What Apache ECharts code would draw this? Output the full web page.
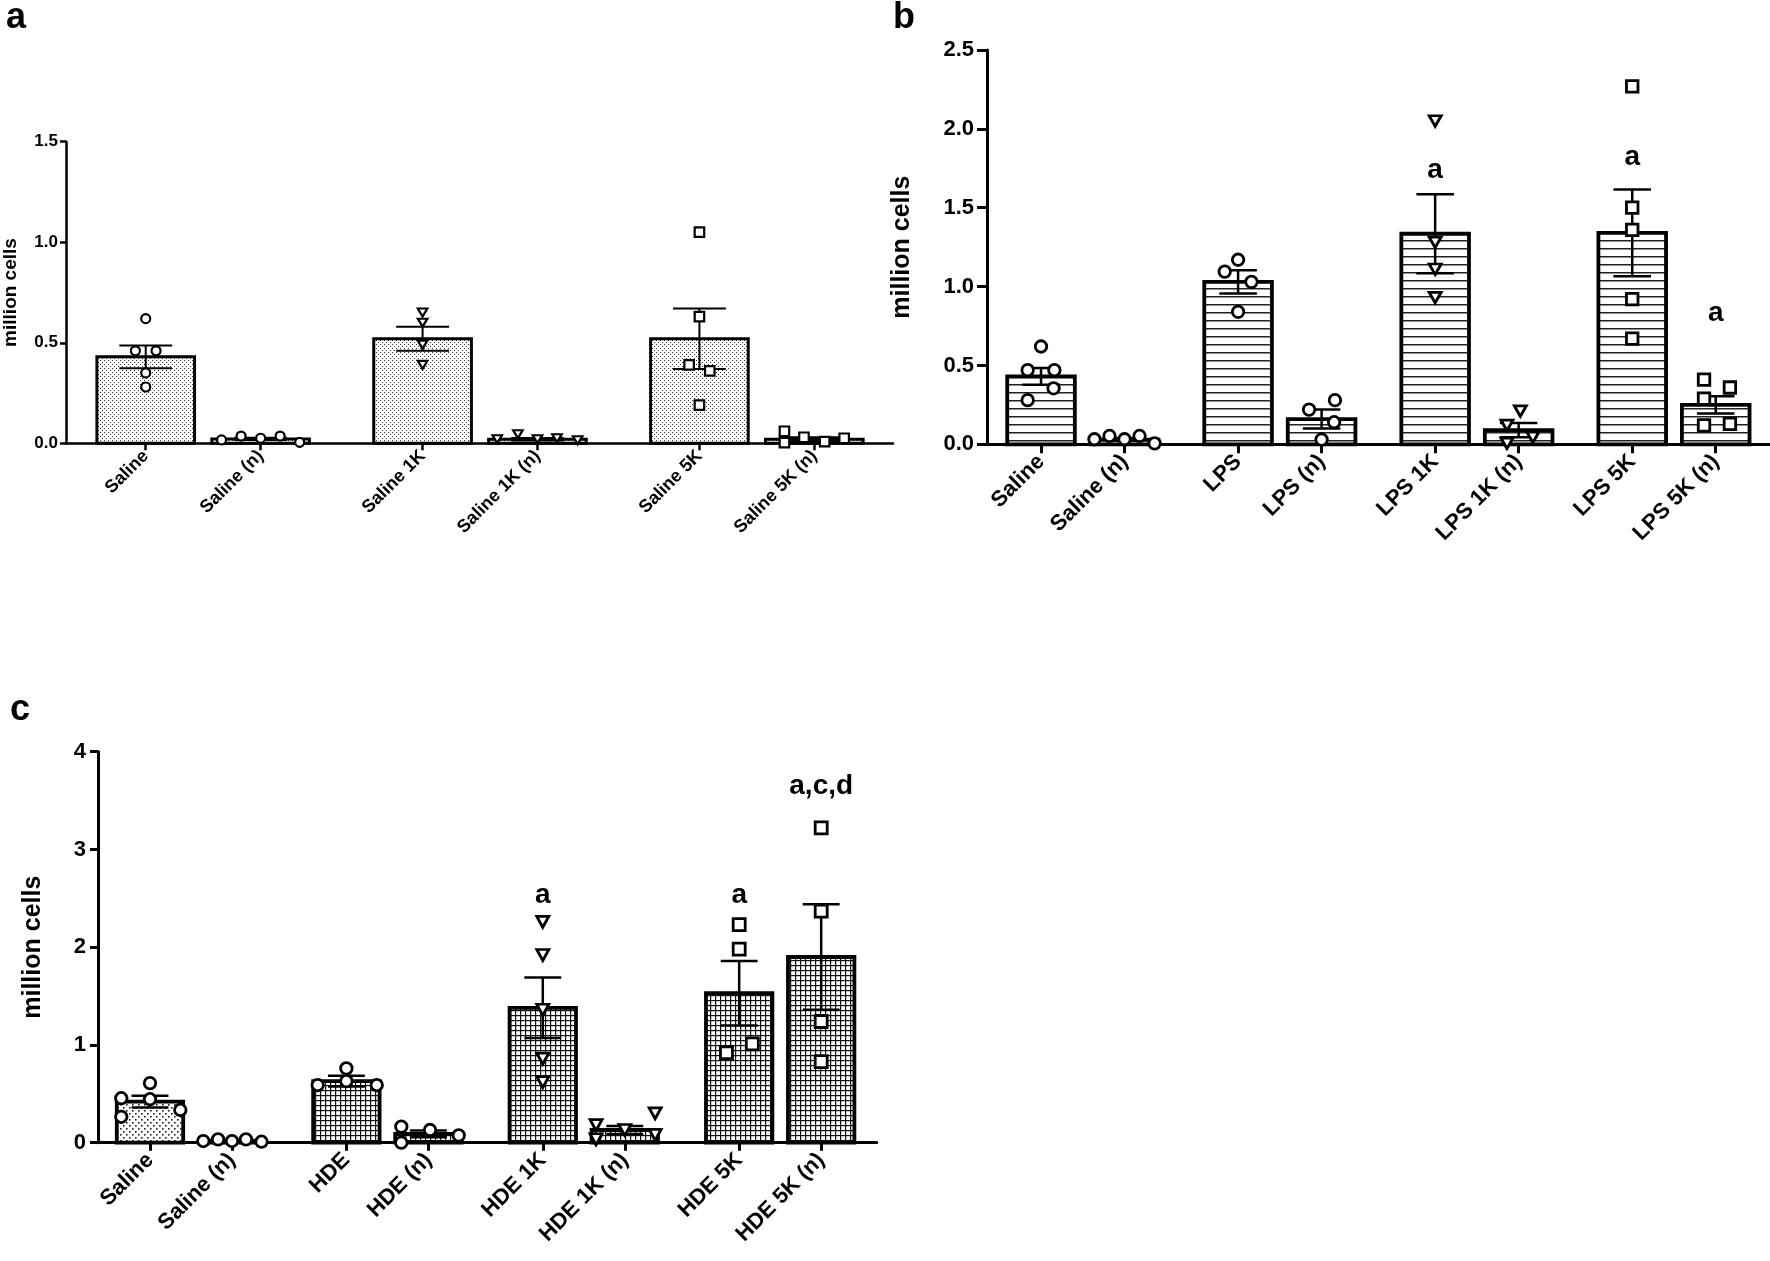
<!DOCTYPE html>
<html><head><meta charset="utf-8">
<script src="https://cdn.jsdelivr.net/npm/echarts@6/dist/echarts.min.js"></script>
<style>html,body{margin:0;padding:0;background:#fff}#c{width:1770px;height:1261px}</style>
</head><body><div id="c"></div>
<script>
// ================= DATA =================
// Panel a
const catsA = ['Saline','Saline (n)','Saline 1K','Saline 1K (n)','Saline 5K','Saline 5K (n)'];
const meanA = [0.43, 0.022, 0.52, 0.02, 0.52, 0.02];
const semA  = [0.057, 0.006, 0.06, 0.006, 0.15, 0.01];
const ptsA  = [
  [0.62, 0.46, 0.46, 0.35, 0.28],
  [0.017, 0.036, 0.025, 0.036, 0.005],
  [0.65, 0.60, 0.49, 0.39],
  [0.02, 0.045, 0.02, 0.025, 0.015],
  [1.05, 0.63, 0.39, 0.36, 0.19],
  [0.06, 0.003, 0.03, 0.008, 0.025]
];
// Panel b
const catsB = ['Saline','Saline (n)','LPS','LPS (n)','LPS 1K','LPS 1K (n)','LPS 5K','LPS 5K (n)'];
const meanB = [0.43, 0.03, 1.03, 0.16, 1.335, 0.09, 1.34, 0.25];
const semB  = [0.053, 0.008, 0.074, 0.06, 0.25, 0.045, 0.275, 0.055];
const ptsB  = [
  [0.62, 0.47, 0.47, 0.355, 0.28],
  [0.032, 0.053, 0.032, 0.053, 0.006],
  [1.17, 1.095, 1.03, 0.84],
  [0.22, 0.28, 0.14, 0.03],
  [2.05, 1.28, 1.11, 0.93],
  [0.21, 0.12, 0.006, 0.044],
  [2.27, 1.50, 1.36, 0.92, 0.67],
  [0.41, 0.36, 0.29, 0.12, 0.13]
];
const annB = [{i: 4, y: 1.74, t: 'a'}, {i: 6, y: 1.82, t: 'a'}, {i: 7, y: 0.83, t: 'a'}];
// Panel c
const catsC = ['Saline','Saline (n)','HDE','HDE (n)','HDE 1K','HDE 1K (n)','HDE 5K','HDE 5K (n)'];
const meanC = [0.42, 0.02, 0.63, 0.09, 1.38, 0.13, 1.53, 1.9];
const semC  = [0.06, 0.005, 0.055, 0.035, 0.31, 0.04, 0.33, 0.54];
const ptsC  = [
  [0.61, 0.455, 0.445, 0.335, 0.265],
  [0.017, 0.034, 0.017, 0.034, 0.01],
  [0.76, 0.59, 0.59, 0.63],
  [0.165, 0.0, 0.13, 0.075],
  [2.26, 1.92, 1.36, 0.86, 0.62],
  [0.18, 0.035, 0.13, 0.30, 0.08],
  [2.23, 1.98, 0.92, 1.01],
  [3.22, 2.37, 1.24, 0.83]
];
const annC = [{i: 4, y: 2.53, t: 'a'}, {i: 6, y: 2.53, t: 'a'}, {i: 7, y: 3.65, t: 'a,c,d'}];

// ================= LAYOUT / STYLE =================
// horizontal spread of the dots (fraction of slot)
const jitA = [[0,-0.09,0.09,0,0],[-0.34,-0.17,0,0.17,0.34],[0,0,0,0],[-0.35,-0.17,0,0.17,0.35],[0,0,-0.09,0.09,0],[-0.26,-0.26,-0.09,0.09,0.26]];
const jitB = [[0,-0.16,0.16,0.15,-0.16],[-0.36,-0.18,0,0.18,0.36],[0,-0.16,0.16,0],[-0.15,0.16,0.15,0],[0,0,0,0],[0.02,-0.14,-0.14,0.17],[0,0,0,0,0],[-0.14,0.17,-0.14,-0.14,0.17]];
const jitC = [[0,-0.35,0,0.37,-0.35],[-0.35,-0.17,0,0.17,0.36],[0,-0.35,0.37,0],[-0.33,-0.33,0.02,0.37],[0,0,0,0,0],[-0.35,-0.35,0,0.37,0.37],[0,0,-0.155,0.16],[0,0,0,0]];
const symA = ['circle','circle','tri','tri','rect','rect'];
const symB = ['circle','circle','circle','circle','tri','tri','rect','rect'];
const symC = ['circle','circle','circle','circle','tri','tri','rect','rect'];

const FONT = "'Liberation Sans', Arial, Helvetica, sans-serif";

function makePattern(w, h, draw) {
  const c = document.createElement('canvas');
  c.width = w; c.height = h;
  const g = c.getContext('2d');
  g.fillStyle = '#fff'; g.fillRect(0, 0, w, h);
  draw(g);
  return {image: c, repeat: 'repeat'};
}
const patFineDots = makePattern(4, 4, g => { g.fillStyle = '#333'; g.fillRect(0, 0, 1, 1); g.fillRect(2, 2, 1, 1); });
const patDots = makePattern(6, 6, g => { g.fillStyle = '#222'; g.fillRect(0, 0, 1.6, 1.6); g.fillRect(3, 3, 1.6, 1.6); });
const patLines = makePattern(8, 8, g => { g.fillStyle = '#222'; g.fillRect(0, 0, 8, 1.5); });
const patGrid = makePattern(5, 5, g => { g.fillStyle = '#111'; g.fillRect(0, 0, 5, 1.2); g.fillRect(0, 0, 1.2, 5); });

const panels = [
  {cats: catsA, mean: meanA, sem: semA, pts: ptsA, jit: jitA, sym: symA, ann: [],
   fills: catsA.map(() => patFineDots), gap: 0.41,
   grid: {left: 63, top: 141.7, width: 830, height: 301.6},
   xMin: -0.694, xMax: 6.505, yMax: 1.5, yInt: 0.5, yDig: 1,
   st: {barW: 0.85, barLW: 3, capW: 0.46, errLW: 2, cs: 9, ts: [9.5, 8], rs: 9.5, mLW: 2.2,
        axLW: 2.5, tickX: 7, tickY: 6, fsTick: 17, fsX: 18, fsName: 19, nameGap: 46,
        xMargin: 10, yMargin: 8, fsAnn: 24}},
  {cats: catsB, mean: meanB, sem: semB, pts: ptsB, jit: jitB, sym: symB, ann: annB,
   fills: catsB.map(() => patLines), gap: 0.36,
   grid: {left: 987, top: 50, width: 783, height: 394.3},
   xMin: -0.647, xMax: 8.73, yMax: 2.5, yInt: 0.5, yDig: 1,
   st: {barW: 0.81, barLW: 3.8, capW: 0.45, errLW: 2.5, cs: 11.5, ts: [12, 10.5], rs: 11.5, mLW: 2.8,
        axLW: 3, tickX: 9, tickY: 10, fsTick: 22, fsX: 22, fsName: 25, nameGap: 72,
        xMargin: 14, yMargin: 13, fsAnn: 28}},
  {cats: catsC, mean: meanC, sem: semC, pts: ptsC, jit: jitC, sym: symC, ann: annC,
   fills: catsC.map((c, i) => i < 2 ? patDots : patGrid), gap: 0.395,
   grid: {left: 98, top: 751.7, width: 778.7, height: 391},
   xMin: -0.634, xMax: 8.862, yMax: 4, yInt: 1, yDig: 0,
   st: {barW: 0.81, barLW: 3.8, capW: 0.45, errLW: 2.5, cs: 11.5, ts: [12, 11], rs: 12, mLW: 2.8,
        axLW: 3, tickX: 8, tickY: 8, fsTick: 22, fsX: 22, fsName: 25, nameGap: 52,
        xMargin: 14, yMargin: 12, fsAnn: 28}}
];

const option = {
  animation: false,
  backgroundColor: '#fff',
  grid: [], xAxis: [], yAxis: [], series: [],
  graphic: [
    {type: 'text', left: 6, top: 0, style: {text: 'a', fontSize: 36, fontWeight: 'bold', fontFamily: FONT, fill: '#000'}},
    {type: 'text', left: 893, top: 0, style: {text: 'b', fontSize: 36, fontWeight: 'bold', fontFamily: FONT, fill: '#000'}},
    {type: 'text', left: 10, top: 692, style: {text: 'c', fontSize: 36, fontWeight: 'bold', fontFamily: FONT, fill: '#000'}}
  ]
};

panels.forEach((P, k) => {
  const st = P.st;
  const pos = P.cats.map((c, i) => i + Math.floor(i / 2) * P.gap);
  option.grid.push(Object.assign({containLabel: false}, P.grid));
  option.xAxis.push({
    type: 'value', gridIndex: k, min: P.xMin, max: P.xMax,
    axisLine: {show: true, onZero: false, lineStyle: {color: '#000', width: st.axLW}},
    axisTick: {show: true, customValues: pos, length: st.tickX, lineStyle: {color: '#000', width: st.axLW}},
    axisLabel: {
      customValues: pos, rotate: 45, margin: st.xMargin,
      fontSize: st.fsX, fontWeight: 'bold', color: '#000', fontFamily: FONT,
      formatter: v => { const i = pos.findIndex(p => Math.abs(p - v) < 1e-6); return i >= 0 ? P.cats[i] : ''; }
    },
    splitLine: {show: false}
  });
  option.yAxis.push({
    type: 'value', gridIndex: k, min: 0, max: P.yMax, interval: P.yInt,
    name: 'million cells', nameLocation: 'middle', nameGap: st.nameGap,
    nameTextStyle: {fontSize: st.fsName, fontWeight: 'bold', color: '#000', fontFamily: FONT},
    axisLine: {show: true, onZero: false, lineStyle: {color: '#000', width: st.axLW}},
    axisTick: {show: true, length: st.tickY, lineStyle: {color: '#000', width: st.axLW}},
    axisLabel: {margin: st.yMargin, fontSize: st.fsTick, fontWeight: 'bold', color: '#000', fontFamily: FONT,
                formatter: v => v.toFixed(P.yDig)},
    splitLine: {show: false}
  });
  // bars
  option.series.push({
    type: 'custom', xAxisIndex: k, yAxisIndex: k, z: 2, silent: true,
    data: pos.map((p, i) => [p, P.mean[i], i]),
    encode: {x: 0, y: 1},
    renderItem: (params, api) => {
      const x = api.value(0), y = api.value(1), i = api.value(2);
      const a = api.coord([x - st.barW / 2, y]);
      const b = api.coord([x + st.barW / 2, 0]);
      return {type: 'rect', shape: {x: a[0], y: a[1], width: b[0] - a[0], height: b[1] - a[1]},
              style: {fill: P.fills[i], stroke: '#000', lineWidth: st.barLW}};
    }
  });
  // error bars (mean ± SEM)
  option.series.push({
    type: 'custom', xAxisIndex: k, yAxisIndex: k, z: 3, silent: true,
    data: pos.map((p, i) => [p, P.mean[i], P.sem[i]]),
    encode: {x: 0, y: 1},
    renderItem: (params, api) => {
      const x = api.value(0), m = api.value(1), s = api.value(2);
      const t = api.coord([x, m + s]);
      const b = api.coord([x, Math.max(0, m - s)]);
      const hw = api.coord([x + st.capW / 2, 0])[0] - api.coord([x, 0])[0];
      const ls = {stroke: '#000', lineWidth: st.errLW};
      return {type: 'group', children: [
        {type: 'line', shape: {x1: t[0], y1: t[1], x2: b[0], y2: b[1]}, style: ls},
        {type: 'line', shape: {x1: t[0] - hw, y1: t[1], x2: t[0] + hw, y2: t[1]}, style: ls},
        {type: 'line', shape: {x1: b[0] - hw, y1: b[1], x2: b[0] + hw, y2: b[1]}, style: ls}
      ]};
    }
  });
  // individual points
  const pdata = [];
  P.pts.forEach((arr, i) => arr.forEach((v, j) => {
    const s = P.sym[i];
    const item = {value: [pos[i] + P.jit[i][j], v]};
    if (s === 'circle') { item.symbol = 'circle'; item.symbolSize = st.cs; }
    else if (s === 'tri') { item.symbol = 'triangle'; item.symbolSize = st.ts; item.symbolRotate = 180; }
    else { item.symbol = 'rect'; item.symbolSize = st.rs; }
    pdata.push(item);
  }));
  option.series.push({
    type: 'scatter', xAxisIndex: k, yAxisIndex: k, z: 5, silent: true,
    data: pdata,
    itemStyle: {color: '#fff', borderColor: '#000', borderWidth: st.mLW, opacity: 1}
  });
  // significance letters
  if (P.ann.length) {
    option.series.push({
      type: 'custom', xAxisIndex: k, yAxisIndex: k, z: 6, silent: true,
      data: P.ann.map(a => [pos[a.i], a.y, a.t]),
      encode: {x: 0, y: 1},
      renderItem: (params, api) => {
        const p = api.coord([api.value(0), api.value(1)]);
        return {type: 'text', x: p[0], y: p[1],
                style: {text: String(P.ann[params.dataIndex].t), fill: '#000', align: 'center', verticalAlign: 'middle',
                        font: 'bold ' + st.fsAnn + 'px ' + FONT}};
      }
    });
  }
});

const chart = echarts.init(document.getElementById('c'), null, {renderer: 'canvas'});
chart.setOption(option);
</script>
</body></html>
